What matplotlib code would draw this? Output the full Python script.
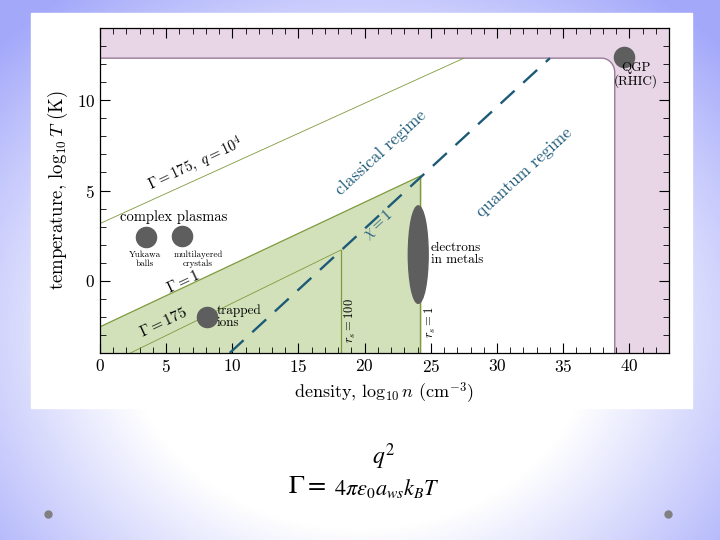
import numpy as np
import matplotlib
matplotlib.use('Agg')
import matplotlib.pyplot as plt
from matplotlib.patches import Rectangle, Ellipse, Polygon

plt.rcParams['font.family'] = 'cmr10'
plt.rcParams['mathtext.fontset'] = 'cm'
plt.rcParams['axes.formatter.use_mathtext'] = True

# lines (log10 n, log10 T)
g1_x = [0, 24.2]
g1_y = [-2.55, 5.8]
g175_x = [2.3, 18.2]
g175_y = [-4, 1.7]
gq_x = [0, 27.5]
gq_y = [3.17, 12.33]
chi_x = [9.8, 34.0]
chi_y = [-4, 12.33]
rs100_x = 18.2
rs1_x = 24.2
qgp_T = 12.33
qgp_n = 38.9

# dots
dot_x = [3.5, 6.2, 8.1, 39.6]
dot_y = [2.45, 2.5, -2.0, 12.4]
elec_x, elec_y, elec_w, elec_h = 24.05, 1.45, 1.5, 5.4

green = '#d3e1bb'
olive = '#7e9a3c'
pink = '#e8d5e6'
plum = '#9a7a98'
blue = '#1d5a78'
grey = '#5e5e5e'

fig = plt.figure(figsize=(7.2, 5.4), dpi=100)

# slide background
bg = fig.add_axes([0, 0, 1, 1])
xx, yy = np.meshgrid(np.linspace(0, 720, 360), np.linspace(0, 540, 270))
r = np.sqrt(((xx - 360) / 470) ** 2 + ((yy - 330) / 400) ** 2)
t = np.clip((r - 0.5) / 0.55, 0, 1)[..., None]
c0 = np.array([1.0, 1.0, 1.0])
c1 = np.array([0.64, 0.66, 0.98])
bg.imshow(c0 * (1 - t) + c1 * t, extent=[0, 720, 540, 0], aspect='auto')
bg.set_xlim(0, 720)
bg.set_ylim(540, 0)
bg.axis('off')
bg.add_patch(Rectangle((31, 13), 661, 395, color='white'))
bg.add_patch(Rectangle((280, 437), 167, 66, color='white'))
bg.plot([48, 668], [514, 514], 'o', color='#808080', ms=5)
bg.text(288, 486, r'$\Gamma =$', fontsize=19, math_fontfamily='stix', va='center')
bg.text(372, 457, r'$q^2$', fontsize=17, math_fontfamily='stix', va='center')
bg.text(334, 488, r'$4\pi\epsilon_0 a_{ws}k_BT$', fontsize=16, math_fontfamily='stix', va='center')

ax = fig.add_axes([100 / 720, 1 - 353 / 540, 569 / 720, 325 / 540])
ax.set_xlim(0, 43)
ax.set_ylim(-4, 14)

# QGP region with rounded corner
rx, ry = 1.0, 0.8
th = np.linspace(0, np.pi / 2, 20)
arc = np.column_stack([qgp_n - rx + rx * np.cos(th), qgp_T - ry + ry * np.sin(th)])
pts = np.vstack([[[0, 14], [43, 14], [43, -4], [qgp_n, -4]], arc, [[0, qgp_T]]])
ax.add_patch(Polygon(pts, closed=True, facecolor=pink, edgecolor='none', zorder=1))
edge = np.vstack([[[qgp_n, -4]], arc, [[0, qgp_T]]])
ax.plot(edge[:, 0], edge[:, 1], color=plum, lw=1.0, zorder=2)

# strongly coupled region
ax.fill_between(g1_x, g1_y, -4, color=green, zorder=1)
ax.plot(g1_x, g1_y, color=olive, lw=0.9, zorder=2)
ax.plot([rs1_x, rs1_x], [-4, g1_y[1]], color=olive, lw=1.0, zorder=2)
ax.plot(g175_x, g175_y, color=olive, lw=0.6, zorder=2)
ax.plot([rs100_x, rs100_x], [-4, g175_y[1]], color=olive, lw=0.9, zorder=2)
ax.plot(gq_x, gq_y, color=olive, lw=0.6, zorder=2)

line, = ax.plot(chi_x, chi_y, color=blue, lw=1.7, zorder=3)
line.set_dashes((8, 5))

ax.plot(dot_x, dot_y, 'o', color=grey, ms=14.5, zorder=4)
ax.add_patch(Ellipse((elec_x, elec_y), elec_w, elec_h, color=grey, zorder=4))


def ang(x, y):
    d = np.degrees(np.arctan2(y[1] - y[0], x[1] - x[0]))
    return ax.transData.transform_angles(np.array([d]), np.array([[x[0], y[0]]]))[0]


a1 = ang(g1_x, g1_y)
a2 = ang(chi_x, chi_y)
kw = dict(ha='center', va='center', rotation_mode='anchor', zorder=5)
ax.text(21.2, 7.1, 'classical regime', fontsize=12.5, color=blue, rotation=a2, **kw)
ax.text(32.1, 6.0, 'quantum regime', fontsize=12.5, color=blue, rotation=a2, **kw)
ax.text(21.0, 3.1, r'$\chi = 1$', fontsize=11, color=blue, rotation=a2, **kw)
ax.text(7.2, 6.45, r'$\Gamma = 175,\ q = 10^4$', fontsize=10.5, rotation=a1, **kw)
ax.text(6.3, -0.05, r'$\Gamma = 1$', fontsize=11, rotation=a1, **kw)
ax.text(4.8, -2.3, r'$\Gamma = 175$', fontsize=11, rotation=a1, **kw)
ax.text(18.9, -2.2, r'$r_s = 100$', fontsize=9, rotation=90, **kw)
ax.text(25.0, -2.3, r'$r_s = 1$', fontsize=9, rotation=90, **kw)
ax.text(5.6, 3.55, 'complex plasmas', fontsize=10.5, **kw)
ax.text(3.4, 1.2, 'Yukawa\nballs', fontsize=6.5, linespacing=1.1, **kw)
ax.text(7.4, 1.2, 'multilayered\ncrystals', fontsize=6.5, linespacing=1.1, **kw)
ax.text(8.8, -2.0, 'trapped\nions', fontsize=9.5, ha='left', va='center', linespacing=1.0, zorder=5)
ax.text(25.0, 1.5, 'electrons\nin metals', fontsize=9.5, ha='left', va='center', linespacing=1.0, zorder=5)
ax.text(40.5, 11.4, 'QGP\n(RHIC)', fontsize=9.5, ha='center', va='center', linespacing=1.0, zorder=5)

ax.set_xticks(np.arange(0, 41, 5))
ax.set_xticks(np.arange(0, 44, 1), minor=True)
ax.set_yticks([0, 5, 10])
ax.set_yticks(np.arange(-4, 15, 1), minor=True)
ax.tick_params(which='both', direction='in', top=True, right=True, labelsize=12.5)
ax.tick_params(which='major', length=7, width=0.8)
ax.tick_params(which='minor', length=4, width=0.6)
for s in ax.spines.values():
    s.set_linewidth(0.9)

ax.set_xlabel(r'density, log$_{10}\,n$ (cm$^{-3}$)', fontsize=13, labelpad=4)
ax.set_ylabel(r'temperature, log$_{10}\,T$ (K)', fontsize=13.5, labelpad=5)

fig.savefig('out.png', dpi=100)
